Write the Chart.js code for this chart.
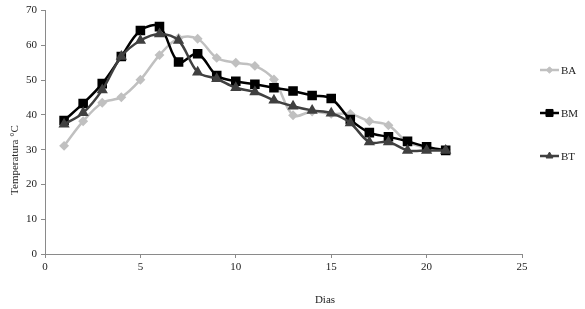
<!DOCTYPE html>
<html><head><meta charset="utf-8">
<script src="https://cdn.jsdelivr.net/npm/chart.js@4.4.1/dist/chart.umd.min.js"></script>
<style>html,body{margin:0;padding:0;background:#fff;}#wrap{width:585px;height:309px;position:relative;}</style>
</head><body><div id="wrap"><canvas id="c" width="585" height="309"></canvas></div>
<script>
const days = [1,2,3,4,5,6,7,8,9,10,11,12,13,14,15,16,17,18,19,20,21];
const BA = [31.1,38.2,43.5,45.1,50.1,57.2,62.1,61.9,56.4,55.0,54.1,50.2,39.9,41.0,40.3,40.3,38.2,37.0,32.2,30.6,30.0];
const BM = [38.4,43.3,49.0,56.8,64.3,65.4,55.2,57.6,51.3,49.7,48.8,47.8,46.9,45.6,44.7,38.7,34.9,33.7,32.4,30.8,29.8];
const BT = [37.3,40.6,47.2,56.8,61.4,63.3,61.4,52.3,50.4,47.8,46.6,44.2,42.5,41.3,40.5,37.7,32.2,32.2,29.8,29.8,29.8];
const seriesNames = ['BA','BM','BT'];
const xTicks = [0,5,10,15,20,25];
const yTicks = [0,10,20,30,40,50,60,70];

const FONT = "'Liberation Serif', 'Times New Roman', serif";
const pts = arr => days.map((d,i)=>({x:d,y:arr[i]}));

const legendPlugin = {
  id:'customLegend',
  afterDraw(chart){
    const ctx = chart.ctx;
    const ys = [70,113,156];
    chart.data.datasets.forEach((ds,i)=>{
      const y = ys[i];
      ctx.save();
      ctx.strokeStyle = ds.borderColor; ctx.lineWidth = 2.5;
      ctx.beginPath(); ctx.moveTo(540,y); ctx.lineTo(559,y); ctx.stroke();
      ctx.fillStyle = ds.pointBackgroundColor; ctx.strokeStyle = ds.pointBorderColor; ctx.lineWidth=1;
      ctx.beginPath();
      Chart.helpers.drawPoint(ctx,{pointStyle:ds.pointStyle,radius:ds.pointRadius,borderWidth:1,rotation:0},549.5,y);
      ctx.fillStyle = '#222'; ctx.font = '11px '+FONT; ctx.textBaseline='middle'; ctx.textAlign='left';
      ctx.fillText(seriesNames[i],561,y+1);
      ctx.restore();
    });
    ctx.save();
    ctx.fillStyle='#222'; ctx.font='11px '+FONT; ctx.textAlign='center'; ctx.textBaseline='middle';
    ctx.fillText('Dias',325,300);
    ctx.translate(15,160); ctx.rotate(-Math.PI/2);
    ctx.fillText('Temperatura °C',0,0);
    ctx.restore();
  }
};

new Chart(document.getElementById('c'),{
  type:'line',
  data:{datasets:[
    {label:seriesNames[0],data:pts(BA),borderColor:'#c0c0c0',backgroundColor:'#c0c0c0',pointBackgroundColor:'#c0c0c0',pointBorderColor:'#c0c0c0',pointStyle:'rectRot',pointRadius:3.2,borderWidth:2.5,tension:0.35,order:3},
    {label:seriesNames[1],data:pts(BM),borderColor:'#000000',backgroundColor:'#000000',pointBackgroundColor:'#000000',pointBorderColor:'#000000',pointStyle:'rect',pointRadius:5,borderWidth:2.5,tension:0.35,order:2},
    {label:seriesNames[2],data:pts(BT),borderColor:'#404040',backgroundColor:'#404040',pointBackgroundColor:'#404040',pointBorderColor:'#404040',pointStyle:'triangle',pointRadius:4,borderWidth:2.5,tension:0.35,order:1}
  ]},
  options:{
    responsive:false,animation:false,
    layout:{padding:{top:10,right:63,left:0,bottom:0}},
    plugins:{legend:{display:false},tooltip:{enabled:false}},
    scales:{
      x:{type:'linear',min:0,max:25,
        afterBuildTicks:s=>{s.ticks=xTicks.map(v=>({value:v}));},
        afterFit:s=>{s.height=55;},
        grid:{display:true,drawOnChartArea:false,drawTicks:true,tickLength:4,color:'#8a8a8a'},
        border:{display:true,color:'#8a8a8a',width:1},
        ticks:{font:{family:FONT,size:11},color:'#222',padding:3,maxRotation:0}
      },
      y:{type:'linear',min:0,max:70,
        afterBuildTicks:s=>{s.ticks=yTicks.map(v=>({value:v}));},
        afterFit:s=>{s.width=45;},
        grid:{display:true,drawOnChartArea:false,drawTicks:true,tickLength:4,color:'#8a8a8a'},
        border:{display:true,color:'#8a8a8a',width:1},
        ticks:{font:{family:FONT,size:11},color:'#222',padding:4}
      }
    }
  },
  plugins:[legendPlugin]
});
</script></body></html>
